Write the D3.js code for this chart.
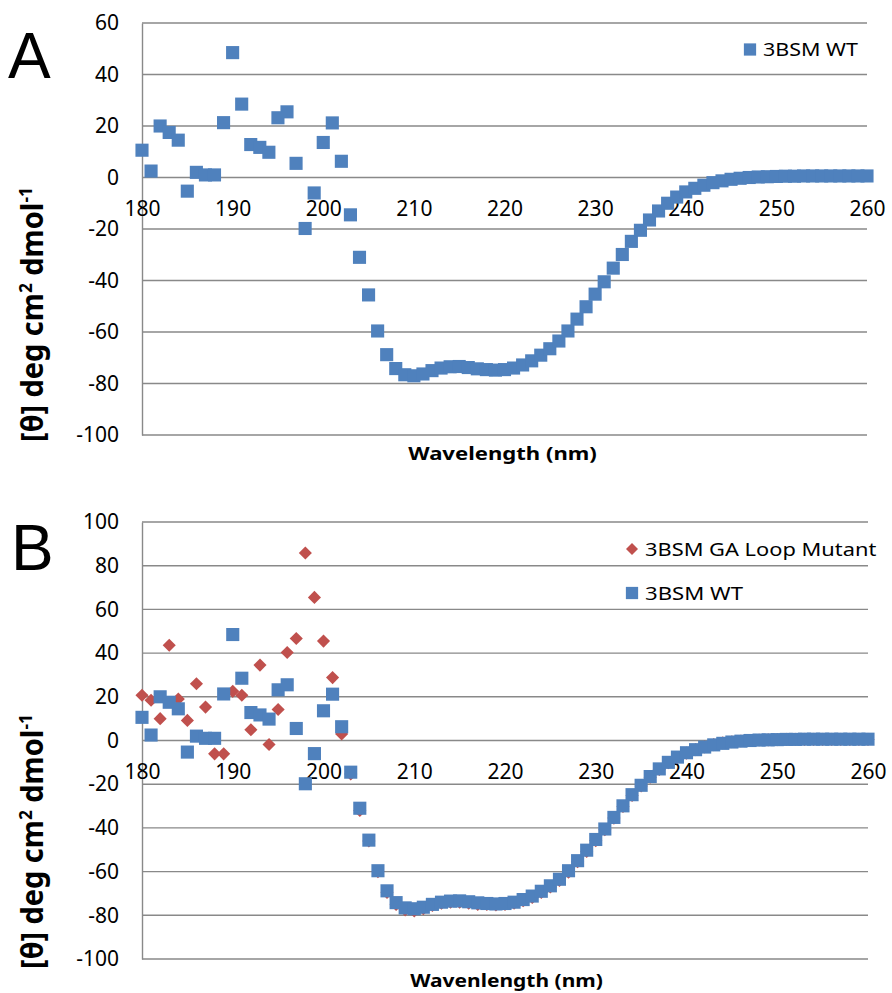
<!DOCTYPE html>
<html>
<head>
<meta charset="utf-8">
<script src="https://cdn.jsdelivr.net/npm/d3@7"></script>
<style>
  html, body { margin: 0; padding: 0; background: #ffffff; }
  svg { display: block; }
  text { font-family: "Noto Sans", "Open Sans", sans-serif; fill: #000; }
</style>
</head>
<body>
<svg id="chart" width="892" height="993"></svg>
<script>
// ---------------- DATA ----------------
const wavelengths = [180,181,182,183,184,185,186,187,188,189,190,191,192,193,194,195,196,197,198,199,
  200,201,202,203,204,205,206,207,208,209,210,211,212,213,214,215,216,217,218,219,
  220,221,222,223,224,225,226,227,228,229,230,231,232,233,234,235,236,237,238,239,
  240,241,242,243,244,245,246,247,248,249,250,251,252,253,254,255,256,257,258,259,260];

const wtValues = [10.6,2.5,20,17.5,14.5,-5.3,2,1,1,21.3,48.5,28.5,12.8,11.7,9.8,23.2,25.5,5.5,-19.8,-6,
  13.6,21.2,6.3,-14.5,-31,-45.6,-59.6,-68.8,-74.2,-76.6,-77,-76.3,-75,-74,-73.5,-73.4,-73.8,-74.3,-74.6,-74.8,
  -74.6,-74,-72.8,-71.2,-69,-66.5,-63.5,-59.6,-55,-50.2,-45.3,-40.5,-35.2,-29.9,-24.8,-20.5,-16.5,-13,-10,-7.6,
  -5.6,-4.2,-3,-2,-1.3,-0.7,-0.3,0,0.2,0.3,0.4,0.5,0.5,0.6,0.6,0.6,0.6,0.6,0.6,0.6,0.6];

const mutantValues = [20.7,18.4,10,43.6,19,9.2,26,15.3,-6.1,-6.1,22.5,20.7,4.9,34.5,-1.8,14.2,40.3,46.7,85.8,65.5,
  45.5,28.8,3,-15.3,-32,-46,-60,-69.5,-75,-77.5,-78,-77,-75.5,-74.5,-74,-74,-74.5,-75,-75,-75.3,
  -75,-74.5,-73.3,-71.8,-69.5,-67,-64,-60.3,-55.5,-50.8,-45.8,-40.8,-35.5,-30.2,-25.2,-20.8,-16.8,-13.3,-10.2,-7.8,
  -5.8,-4.2,-2.9,-1.9,-1.1,-0.6,-0.2,0,0.2,0.3,0.4,0.5,0.5,0.5,0.5,0.5,0.5,0.5,0.5,0.5,0.5];

const xTickValues = [180,190,200,210,220,230,240,250,260];
const yTickValuesA = [60,40,20,0,-20,-40,-60,-80,-100];
const yTickValuesB = [100,80,60,40,20,0,-20,-40,-60,-80,-100];

const seriesWT = "3BSM WT";
const seriesMutant = "3BSM GA Loop Mutant";
const xTitleA = "Wavelength (nm)";
const xTitleB = "Wavenlength (nm)";

// ---------------- DRAWING ----------------
const BLUE = "#4F81BD", RED = "#C0504D", GRID = "#898989";
const svg = d3.select("#chart");
const plain = d => String(d); // hyphen-minus like the original

function fitText(parent, opts) {
  const g = parent.append("g")
    .attr("transform", `translate(${opts.x},${opts.y})` + (opts.rotate ? " rotate(-90)" : ""));
  const t = g.append("text")
    .attr("text-anchor", opts.anchor || "start")
    .style("font-size", opts.size + "px")
    .style("font-weight", opts.weight || "normal");
  if (opts.build) opts.build(t); else t.text(opts.text);
  if (opts.width) {
    const w = t.node().getBBox().width;
    t.attr("transform", `scale(${opts.width / w},${opts.yscale || 1})`);
  }
  return t;
}

function yTitle(parent, cx, cy) {
  fitText(parent, {
    x: cx, y: cy, rotate: true, anchor: "middle", size: 25, weight: "bold", width: 255, yscale: 1.22,
    build: t => {
      t.append("tspan").text("[θ] deg cm");
      t.append("tspan").attr("dy", -9).style("font-size", "15px").text("2");
      t.append("tspan").attr("dy", 9).text(" dmol");
      t.append("tspan").attr("dy", -9).style("font-size", "15px").text("-1");
    }
  });
}

function drawPanel(cfg) {
  const g = svg.append("g");
  const x = d3.scaleLinear().domain([180, 260]).range([cfg.left, cfg.right]);
  const y = d3.scaleLinear().domain(cfg.yDomain).range([cfg.bottom, cfg.top]);

  // gridlines
  g.append("g").selectAll("line").data(cfg.yTicks).join("line")
    .attr("x1", cfg.left).attr("x2", cfg.right)
    .attr("y1", d => y(d)).attr("y2", d => y(d))
    .attr("stroke", GRID).attr("stroke-width", 1.4);

  // y axis (line + labels)
  const yAxis = d3.axisLeft(y).tickValues(cfg.yTicks).tickFormat(plain).tickSize(0).tickPadding(23);
  const ya = g.append("g").attr("transform", `translate(${cfg.left},0)`).call(yAxis);
  ya.select(".domain").attr("stroke", GRID).attr("stroke-width", 1.4);
  ya.selectAll("text").style("font-size", "21px").style("font-family", '"Noto Sans", sans-serif').attr("fill", "#000");

  // x axis labels at y = 0
  const xAxis = d3.axisBottom(x).tickValues(xTickValues).tickFormat(plain).tickSize(0).tickPadding(24);
  const xa = g.append("g").attr("transform", `translate(0,${y(0)})`).call(xAxis);
  xa.select(".domain").remove();
  xa.selectAll("text").style("font-size", "21px").style("font-family", '"Noto Sans", sans-serif').attr("fill", "#000");

  // series
  cfg.series.forEach(s => {
    const sym = d3.symbol().type(d3.symbolSquare).size(s.shape === "diamond" ? 86 : 172);
    g.append("g").selectAll("path").data(wavelengths.map((w, i) => [w, s.values[i]])).join("path")
      .attr("d", sym)
      .attr("transform", d => `translate(${x(d[0])},${y(d[1])})` + (s.shape === "diamond" ? " rotate(45)" : ""))
      .attr("fill", s.color);
  });

  // legend
  cfg.legend.forEach(l => {
    const sym = d3.symbol().type(d3.symbolSquare).size(l.shape === "diamond" ? 72 : 150);
    g.append("path").attr("d", sym)
      .attr("transform", `translate(${l.mx},${l.my})` + (l.shape === "diamond" ? " rotate(45)" : ""))
      .attr("fill", l.color);
    fitText(g, { x: l.tx, y: l.my + 6.5, text: l.text, size: 18, width: l.width });
  });

  // axis titles
  fitText(g, { x: cfg.xtx, y: cfg.xty, text: cfg.xTitle, size: 17, weight: "bold", anchor: "middle", width: cfg.xtw });
  yTitle(g, 43, cfg.ytCy);

  // panel letter
  g.append("text").attr("x", cfg.letterX).attr("y", cfg.letterY)
    .style("font-family", '"Liberation Sans", Arial, sans-serif').style("font-size", "64px")
    .text(cfg.letter);
}

drawPanel({
  left: 142, right: 867, top: 23, bottom: 435, yDomain: [-100, 60], yTicks: yTickValuesA,
  series: [{ values: wtValues, color: BLUE, shape: "square" }],
  legend: [{ mx: 750, my: 49.5, tx: 763, text: seriesWT, color: BLUE, shape: "square", width: 95 }],
  xTitle: xTitleA, xtx: 502.5, xty: 460, xtw: 189, ytCy: 314.5,
  letter: "A", letterX: 8, letterY: 78
});

drawPanel({
  left: 142, right: 868, top: 522, bottom: 959, yDomain: [-100, 100], yTicks: yTickValuesB,
  series: [
    { values: mutantValues, color: RED, shape: "diamond" },
    { values: wtValues, color: BLUE, shape: "square" }
  ],
  legend: [
    { mx: 632, my: 549, tx: 645, text: seriesMutant, color: RED, shape: "diamond", width: 232 },
    { mx: 632, my: 593, tx: 645, text: seriesWT, color: BLUE, shape: "square", width: 98 }
  ],
  xTitle: xTitleB, xtx: 506.5, xty: 986.5, xtw: 193, ytCy: 841.5,
  letter: "B", letterX: 11, letterY: 570
});
</script>
</body>
</html>
